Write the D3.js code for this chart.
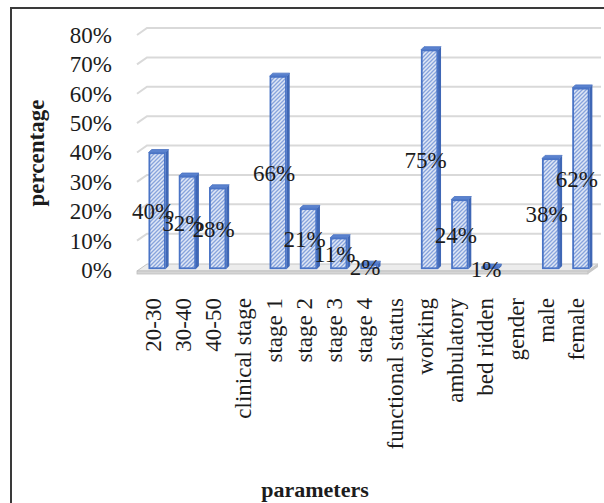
<!DOCTYPE html>
<html>
<head>
<meta charset="utf-8">
<script src="https://cdn.jsdelivr.net/npm/d3@7/dist/d3.min.js"></script>
<style>
  html, body { margin: 0; padding: 0; background: #fff; }
  svg { display: block; }
  text { font-family: "Liberation Serif", "Times New Roman", serif; fill: #1c1c1c; }
</style>
</head>
<body>
<svg id="chart" width="604" height="503"></svg>
<script>
// Patient characteristics by parameter group (share of patients)
const categories = ["20-30", "30-40", "40-50", "clinical stage", "stage 1", "stage 2", "stage 3", "stage 4",
  "functional status", "working", "ambulatory", "bed ridden", "gender", "male", "female"];
const values = [0.40, 0.32, 0.28, null, 0.66, 0.21, 0.11, 0.02, null, 0.75, 0.24, 0.01, null, 0.38, 0.62];
const yTicks = [0, 0.1, 0.2, 0.3, 0.4, 0.5, 0.6, 0.7, 0.8];
const yTitle = "percentage";
const xTitle = "parameters";

const svg = d3.select("#chart");
const W = 604, H = 503;
const fontSize = 23;

// 3D geometry: front plane, back wall offset, bar depth offset
const wall = { dx: 10, dy: -7 };
const depth = { dx: 3, dy: -3 };

const x = d3.scaleBand().domain(categories).range([142, 596]).paddingInner(0).paddingOuter(0);
const y = d3.scaleLinear().domain([0, 0.8]).range([270, 35]);
const barW = 17;
const fmt = d3.format(".0%");

// frame
svg.append("path")
  .attr("d", `M11,${H} L11,8 L${W},8`)
  .attr("fill", "none").attr("stroke", "#3a3a3a").attr("stroke-width", 2);

// hatch fill for the bars
const defs = svg.append("defs");
const pat = defs.append("pattern").attr("id", "hatch")
  .attr("patternUnits", "userSpaceOnUse").attr("width", 4).attr("height", 4);
pat.append("rect").attr("width", 4).attr("height", 4).attr("fill", "#dfe7f6");
pat.append("path").attr("d", "M-1,1 l2,-2 M0,4 l4,-4 M3,5 l2,-2")
  .attr("stroke", "#87a3dc").attr("stroke-width", 1.3);

// gridlines on the back wall with the slanted side-wall segment
const xLeft = x.range()[0] - 5;
const grid = svg.append("g");
yTicks.forEach(t => {
  if (t === 0) return;
  grid.append("path")
    .attr("d", `M${xLeft},${y(t)} L${xLeft + wall.dx},${y(t) + wall.dy} L${W - 3},${y(t) + wall.dy}`)
    .attr("fill", "none").attr("stroke", "#d9d9d9").attr("stroke-width", 2);
});

// floor slab
const fx0 = xLeft, fx1 = x.range()[1] - 8, fy = y(0) + 1;
svg.append("path")
  .attr("d", `M${fx0},${fy} L${fx0 + wall.dx},${fy + wall.dy} L${fx1 + wall.dx},${fy + wall.dy} L${fx1},${fy} Z`)
  .attr("fill", "#ececec").attr("stroke", "#c4c4c4").attr("stroke-width", 1);
svg.append("rect")
  .attr("x", fx0).attr("y", fy).attr("width", fx1 - fx0).attr("height", 3)
  .attr("fill", "#d6d6d6").attr("stroke", "#bdbdbd").attr("stroke-width", 0.8);
svg.append("path")
  .attr("d", `M${fx1},${fy} L${fx1 + wall.dx},${fy + wall.dy} L${fx1 + wall.dx},${fy + wall.dy + 3} L${fx1},${fy + 3} Z`)
  .attr("fill", "#c8c8c8");

// bars
const data = categories.map((c, i) => ({ c, v: values[i] })).filter(d => d.v !== null);
const bars = svg.append("g").selectAll("g").data(data).join("g");

bars.each(function(d) {
  const g = d3.select(this);
  const x0 = x(d.c) + (x.bandwidth() - barW) / 2;
  const x1 = x0 + barW;
  const yt = y(d.v), yb = y(0) - 1;
  // right side face
  g.append("path")
    .attr("d", `M${x1},${yt} L${x1 + depth.dx},${yt + depth.dy} L${x1 + depth.dx},${yb + depth.dy} L${x1},${yb} Z`)
    .attr("fill", "#3f67b5");
  // top face
  g.append("path")
    .attr("d", `M${x0},${yt} L${x0 + depth.dx},${yt + depth.dy} L${x1 + depth.dx},${yt + depth.dy} L${x1},${yt} Z`)
    .attr("fill", "#5a82cf").attr("stroke", "#4a72c2").attr("stroke-width", 0.8);
  // front face
  g.append("rect")
    .attr("x", x0 + 0.75).attr("y", yt + 0.75)
    .attr("width", barW - 1.5).attr("height", Math.max(0, yb - yt - 1.5))
    .attr("fill", "url(#hatch)")
    .attr("stroke", "#4a74c6").attr("stroke-width", 1.8);
});

// value labels, centred on each bar's front face
svg.append("g").selectAll("text").data(data).join("text")
  .attr("x", d => x(d.c) + x.bandwidth() / 2 - 4)
  .attr("y", d => y(d.v / 2))
  .attr("dy", "0.35em")
  .attr("text-anchor", "middle")
  .attr("font-size", fontSize)
  .text(d => fmt(d.v));

// y axis labels
const yAxis = svg.append("g").attr("transform", "translate(114,0)")
  .call(d3.axisLeft(y).tickValues(yTicks).tickFormat(fmt).tickSize(0).tickPadding(2));
yAxis.select(".domain").remove();
yAxis.selectAll("text")
  .attr("font-size", fontSize).attr("font-family", "Liberation Serif, serif").attr("fill", "#1c1c1c");

// category axis, labels rotated upright
const xAxis = svg.append("g").attr("transform", `translate(0,${y(0)})`)
  .call(d3.axisBottom(x).tickSize(0));
xAxis.select(".domain").remove();
xAxis.selectAll("text")
  .attr("font-size", fontSize).attr("font-family", "Liberation Serif, serif").attr("fill", "#1c1c1c")
  .attr("transform", "rotate(-90)")
  .attr("text-anchor", "end")
  .attr("x", -28).attr("y", -4).attr("dy", "0.32em");

// axis titles
svg.append("text")
  .attr("transform", "translate(37,153) rotate(-90)")
  .attr("text-anchor", "middle").attr("dy", "0.3em")
  .attr("font-size", fontSize).attr("font-weight", "bold")
  .text(yTitle);

svg.append("text")
  .attr("x", 315).attr("y", 497)
  .attr("text-anchor", "middle")
  .attr("font-size", 22).attr("font-weight", "bold")
  .text(xTitle);
</script>
</body>
</html>
